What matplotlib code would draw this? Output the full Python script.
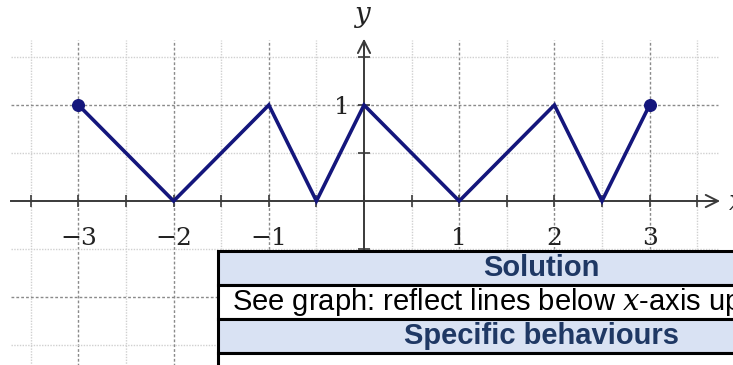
import matplotlib
matplotlib.use("Agg")
import matplotlib.pyplot as plt
import numpy as np
from matplotlib.patches import Rectangle
from matplotlib.ticker import FixedLocator

plt.rcParams["mathtext.fontset"] = "dejavuserif"

# graph of y = |f(x)| on [-3, 3]
xs = [-3, -2, -1, -0.5, 0, 1, 2, 2.5, 3]
ys = [1, 0, 1, 0, 1, 0, 1, 0, 1]
end_x = [-3, 3]
end_y = [1, 1]

x_ticks = [-3, -2, -1, 1, 2, 3]
x_tick_labels = ["\u22123", "\u22122", "\u22121", "1", "2", "3"]
y_ticks = [1]
y_tick_labels = ["1"]

table_rows = ["Solution", "See graph: reflect lines below $x$-axis up",
              "Specific behaviours", ""]
header_row = [True, False, True, False]

W, H = 733, 365
fig = plt.figure(figsize=(W / 100, H / 100), dpi=100)
ax = fig.add_axes([0, 0, 1, 1])
ax.set_xlim(-3.824, 3.876)
ax.set_ylim(-1.708, 2.094)

navy = "#14167c"
axis_col = "#3a3a3a"

# grid: dark dotted at integers, light dotted at halves
gx = np.arange(-3.5, 3.51, 0.5)
gy = np.arange(-1.5, 1.51, 0.5)
for v in gx:
    if v == 0:
        continue
    major = float(v).is_integer()
    ax.plot([v, v], [-1.75, 1.677], color="#8a8a8a" if major else "#d0d0d0",
            lw=1.0, ls=(0, (2, 1.5)) if major else (0, (1, 1)), zorder=1)
for v in gy:
    if v == 0:
        continue
    major = float(v).is_integer()
    ax.plot([-3.71, 3.72], [v, v], color="#8a8a8a" if major else "#d0d0d0",
            lw=1.0, ls=(0, (2, 1.5)) if major else (0, (1, 1)), zorder=1)

# axes through the origin
for side in ["top", "right"]:
    ax.spines[side].set_visible(False)
ax.spines["left"].set_position(("data", 0))
ax.spines["bottom"].set_position(("data", 0))
ax.spines["left"].set_bounds(-1.75, 1.66)
ax.spines["bottom"].set_bounds(-3.71, 3.70)
for side in ["left", "bottom"]:
    ax.spines[side].set_color(axis_col)
    ax.spines[side].set_linewidth(1.4)
    ax.spines[side].set_zorder(2)

ax.annotate("", xy=(3.77, 0), xytext=(3.6, 0),
            arrowprops=dict(arrowstyle="->", color=axis_col, lw=1.4,
                            mutation_scale=22))
ax.annotate("", xy=(0, 1.72), xytext=(0, 1.55),
            arrowprops=dict(arrowstyle="->", color=axis_col, lw=1.4,
                            mutation_scale=22))

ax.xaxis.set_major_locator(FixedLocator(x_ticks))
ax.xaxis.set_minor_locator(FixedLocator(list(np.arange(-3.5, 3.51, 0.5))))
ax.set_xticklabels(x_tick_labels)
ax.yaxis.set_major_locator(FixedLocator(y_ticks))
ax.yaxis.set_minor_locator(FixedLocator([-1.5, -1, -0.5, 0.5, 1.5]))
ax.set_yticklabels(y_tick_labels)
ax.tick_params(which="both", direction="inout", length=9, width=1.2,
               color=axis_col)
ax.tick_params(axis="x", which="major", pad=14, labelsize=18)
ax.tick_params(axis="y", which="major", pad=6, labelsize=18)
for lab in ax.get_xticklabels() + ax.get_yticklabels():
    lab.set_family("DejaVu Serif")
    lab.set_color("#222222")

ax.text(-0.02, 1.93, "$y$", fontsize=20, ha="center", va="center",
        color="#222222")
ax.text(3.82, -0.01, "$x$", fontsize=20, ha="left", va="center",
        color="#222222")

ax.plot(xs, ys, color=navy, lw=2.6, zorder=4, solid_joinstyle="miter")
ax.scatter(end_x, end_y, s=70, color=navy, zorder=5)

# solution table overlay (pixel layout)
row_tops = [251, 285, 319, 353]
row_h = 34
left_px, right_px = 218, 865
for top, text, head in zip(row_tops, table_rows, header_row):
    y0 = 1 - (top + row_h) / H
    rect = Rectangle((left_px / W, y0), (right_px - left_px) / W, row_h / H,
                     transform=fig.transFigure,
                     facecolor="#d9e2f3" if head else "white",
                     edgecolor="black", lw=2.2, zorder=10)
    fig.add_artist(rect)
    if not text:
        continue
    yc = 1 - (top + row_h / 2) / H
    if head:
        fig.text((left_px + right_px) / 2 / W, yc, text, ha="center",
                 va="center", fontsize=21, fontweight="bold",
                 color="#1f3864", family="Liberation Sans", zorder=11)
    else:
        fig.text((left_px + 14) / W, yc, text, ha="left", va="center",
                 fontsize=21, color="black", family="Liberation Sans",
                 zorder=11)

fig.savefig("out.png", dpi=100)
